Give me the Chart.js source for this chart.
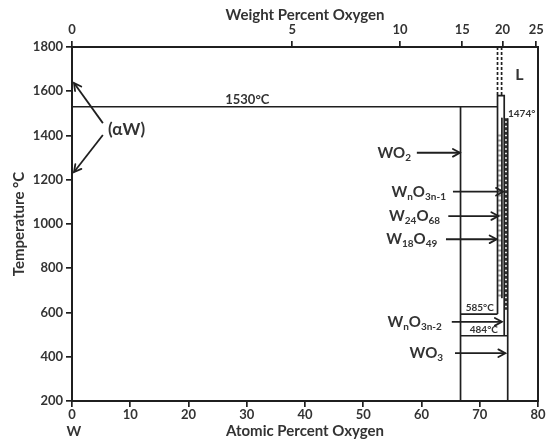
<!DOCTYPE html>
<html>
<head>
<meta charset="utf-8">
<script src="https://cdn.jsdelivr.net/npm/chart.js@4"></script>
<style>
  html, body { margin:0; padding:0; background:#fff; }
  #wrap { width:553px; height:443px; }
</style>
</head>
<body>
<div id="wrap"><canvas id="chart" width="553" height="443"></canvas></div>
<script>
/********************
 * W–O phase diagram
 ********************/

// axes
const atomicTicks = [0, 10, 20, 30, 40, 50, 60, 70, 80];
const tempTicks = [200, 400, 600, 800, 1000, 1200, 1400, 1600, 1800];
const weightTickLabels = ["0", "5", "10", "15", "20", "25"];
const weightTickAtomic = [0, 37.8, 56.3, 67.0, 73.9, 79.7];   // where each wt% tick sits on the at% scale

// phase boundaries (x = at% O, y = °C)
const eutecticLine = [{x:0, y:1530}, {x:73.05, y:1530}];
const wo2Line = [{x:66.7, y:1530}, {x:66.7, y:200}];
const wo3Line = [{x:74.8, y:1478}, {x:74.8, y:200}];
const w18Side = [{x:73.05, y:593}, {x:73.05, y:1580}, {x:74.2, y:1580}, {x:74.2, y:495}];
const line585 = [{x:66.7, y:593}, {x:73.05, y:593}];
const line484 = [{x:66.7, y:495}, {x:74.8, y:495}];
const innerLine = [{x:73.8, y:1480}, {x:73.8, y:665}];
const liquidusA = [{x:73.05, y:1800}, {x:73.05, y:1580}];
const liquidusB = [{x:73.75, y:1800}, {x:73.75, y:1580}];
const magneliBand = [{x:74.5, y:1478}, {x:74.5, y:612}];
const w24Band = [{x:73.42, y:1405}, {x:73.42, y:665}];

// arrows: tail -> tip
const alphaArrows = [
  [{x:5.3, y:1456}, {x:0.35, y:1637}],
  [{x:5.3, y:1402}, {x:0.35, y:1235}]
];
const formulaLabels = ["WO_2", "W_nO_3n-1", "W_24O_68", "W_18O_49", "W_nO_3n-2", "WO_3"];
const formulaTextX = [58.2, 64.2, 63.2, 62.7, 63.5, 63.7];
const formulaArrows = [
  [{x:59.2, y:1322}, {x:66.6, y:1322}],
  [{x:65.4, y:1146}, {x:74.0, y:1146}],
  [{x:64.6, y:1036}, {x:73.2, y:1036}],
  [{x:64.2, y:931},  {x:72.9, y:931}],
  [{x:65.2, y:558},  {x:73.8, y:558}],
  [{x:65.75, y:416}, {x:74.4, y:416}]
];

// plain labels
const plainLabels = ["(αW)", "1530°C", "L", "1474°", "585°C", "484°C", "W"];
const plainLabelX = [6.2, 30.1, 76.8, 77.2, 70.0, 70.7, 0.3];
const plainLabelY = [1425, 1560, 1673, 1500, 622, 521, 60];

const INK = "#1f1f1f";
const TXT = "#333333";
const FONT = "Lato, 'Open Sans', sans-serif";

const plainStyle = [
  { size:17, align:"left" },
  { size:13, align:"center" },
  { size:16, align:"center" },
  { size:10, align:"center" },
  { size:10, align:"center" },
  { size:10, align:"center" },
  { size:14, align:"center" }
];

function lineSet(data, extra){
  return Object.assign({
    data,
    showLine: true,
    pointRadius: 0,
    borderColor: INK,
    borderWidth: 1.7,
    fill: false,
    tension: 0
  }, extra || {});
}

const datasets = [
  lineSet(eutecticLine),
  lineSet(wo2Line),
  lineSet(wo3Line),
  lineSet(w18Side),
  lineSet(line585),
  lineSet(line484),
  lineSet(innerLine, { borderWidth: 1 }),
  lineSet(liquidusA, { borderDash: [3, 2] }),
  lineSet(liquidusB, { borderDash: [3, 2] }),
  lineSet(w24Band, { borderWidth: 3, borderColor: "#9a9a9a", borderDash: [2, 3] }),
  lineSet(magneliBand, { borderWidth: 3.5, borderColor: "#303030", borderDash: [3, 1.5] })
];
alphaArrows.concat(formulaArrows).forEach(a => datasets.push(lineSet(a, { arrowHead: true, borderWidth: 1.8 })));

function splitFormula(s){
  const out = [];
  let i = 0;
  while(i < s.length){
    if(s[i] === "_"){
      let j = i + 1;
      while(j < s.length && !/[A-Z]/.test(s[j])) j++;
      out.push({ t: s.slice(i + 1, j), sub: true });
      i = j;
    } else {
      let j = i;
      while(j < s.length && s[j] !== "_") j++;
      out.push({ t: s.slice(i, j), sub: false });
      i = j;
    }
  }
  return out;
}

const annotate = {
  id: "annotate",
  afterDatasetsDraw(chart){
    const ctx = chart.ctx;
    const xs = chart.scales.x, ys = chart.scales.y;

    // arrow heads
    ctx.save();
    chart.data.datasets.forEach((ds, i) => {
      if(!ds.arrowHead) return;
      const pts = chart.getDatasetMeta(i).data;
      const a = pts[pts.length - 2], b = pts[pts.length - 1];
      const ang = Math.atan2(b.y - a.y, b.x - a.x);
      const len = 8, spread = 0.5;
      ctx.strokeStyle = INK;
      ctx.lineWidth = 1.8;
      ctx.lineCap = "round";
      ctx.beginPath();
      ctx.moveTo(b.x - len * Math.cos(ang - spread), b.y - len * Math.sin(ang - spread));
      ctx.lineTo(b.x, b.y);
      ctx.lineTo(b.x - len * Math.cos(ang + spread), b.y - len * Math.sin(ang + spread));
      ctx.stroke();
    });

    // formulas, right aligned
    ctx.fillStyle = TXT;
    ctx.textBaseline = "middle";
    ctx.textAlign = "left";
    formulaLabels.forEach((f, i) => {
      const parts = splitFormula(f);
      const y = ys.getPixelForValue(formulaArrows[i][0].y);
      const right = xs.getPixelForValue(formulaTextX[i]);
      let w = 0;
      parts.forEach(p => {
        ctx.font = `bold ${p.sub ? 10 : 15}px ${FONT}`;
        p.w = ctx.measureText(p.t).width;
        w += p.w;
      });
      let x = right - w;
      parts.forEach(p => {
        ctx.font = `bold ${p.sub ? 10 : 15}px ${FONT}`;
        ctx.fillText(p.t, x, p.sub ? y + 5 : y);
        x += p.w;
      });
    });

    // plain labels
    plainLabels.forEach((t, i) => {
      const st = plainStyle[i];
      ctx.font = `bold ${st.size}px ${FONT}`;
      ctx.textAlign = st.align;
      ctx.fillText(t, xs.getPixelForValue(plainLabelX[i]), ys.getPixelForValue(plainLabelY[i]));
    });
    ctx.restore();
  }
};

const tickFont = { family: FONT, size: 13, weight: "bold" };
const titleFont = { family: FONT, size: 15, weight: "bold" };
const gridOpts = { drawOnChartArea: false, drawTicks: true, tickLength: 6, color: INK, lineWidth: 1.7 };
const borderOpts = { display: true, color: INK, width: 2 };
const plainNum = v => String(v);

new Chart(document.getElementById("chart").getContext("2d"), {
  type: "scatter",
  data: { datasets },
  options: {
    responsive: false,
    animation: false,
    layout: { padding: 0 },
    plugins: { legend: { display: false }, tooltip: { enabled: false } },
    scales: {
      x: {
        type: "linear", position: "bottom", min: 0, max: 80,
        afterBuildTicks: s => { s.ticks = atomicTicks.map(v => ({ value: v })); },
        ticks: { font: tickFont, color: TXT, padding: 0, maxRotation: 0, autoSkip: false, callback: plainNum },
        grid: gridOpts, border: borderOpts,
        title: { display: true, text: "Atomic Percent Oxygen", font: titleFont, color: TXT, padding: { bottom: 3 } },
        afterFit: s => { s.height = 42; }
      },
      xTop: {
        type: "linear", position: "top", min: 0, max: 80,
        afterBuildTicks: s => { s.ticks = weightTickAtomic.map(v => ({ value: v })); },
        ticks: { font: tickFont, color: TXT, padding: 3, maxRotation: 0, autoSkip: false,
                 callback: (v, i) => weightTickLabels[i] },
        grid: gridOpts, border: borderOpts,
        title: { display: true, text: "Weight Percent Oxygen", font: titleFont, color: TXT, padding: { top: 6 } },
        afterFit: s => { s.height = 47; }
      },
      y: {
        type: "linear", position: "left", min: 200, max: 1800,
        afterBuildTicks: s => { s.ticks = tempTicks.map(v => ({ value: v })); },
        ticks: { font: tickFont, color: TXT, padding: 3, callback: plainNum },
        grid: gridOpts, border: borderOpts,
        title: { display: true, text: "Temperature °C", font: titleFont, color: TXT, padding: { top: 10 } },
        afterFit: s => { s.width = 72; }
      },
      yRight: {
        type: "linear", position: "right", min: 200, max: 1800,
        ticks: { display: false },
        grid: { display: false, drawTicks: false },
        border: borderOpts,
        afterFit: s => { s.width = 15; }
      }
    }
  },
  plugins: [annotate]
});
</script>
</body>
</html>
